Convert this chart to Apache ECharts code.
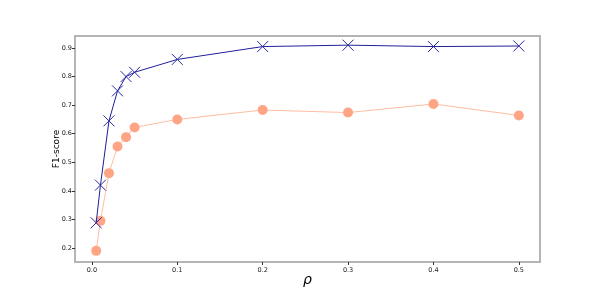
<!DOCTYPE html>
<html><head><meta charset="utf-8">
<script src="https://cdn.jsdelivr.net/npm/echarts@6/dist/echarts.min.js"></script>
<style>html,body{margin:0;padding:0;background:#fff}#c{width:600px;height:300px}</style>
</head><body><div id="c"></div>
<script>
const rho = [0.005, 0.01, 0.02, 0.03, 0.04, 0.05, 0.1, 0.2, 0.3, 0.4, 0.5];
const blueF1 = [0.288, 0.42, 0.645, 0.75, 0.80, 0.815, 0.86, 0.905, 0.91, 0.905, 0.907];
const orangeF1 = [0.19, 0.295, 0.462, 0.555, 0.588, 0.622, 0.65, 0.683, 0.674, 0.704, 0.664];
const xTicks = [0, 0.1, 0.2, 0.3, 0.4, 0.5];
const yTicks = [0.2, 0.3, 0.4, 0.5, 0.6, 0.7, 0.8, 0.9];

const pair = (xs, ys) => xs.map((x, i) => [x, ys[i]]);
const chart = echarts.init(document.getElementById('c'), null, {renderer: 'canvas'});
const axisCommon = {
  axisLine: {show: true, onZero: false, lineStyle: {color: '#b5b5b5', width: 2}},
  splitLine: {show: false},
  nameMoveOverlap: false
};
chart.setOption({
  animation: false,
  grid: {left: 75, right: 60, top: 36, bottom: 38, show: true, borderColor: '#b5b5b5', borderWidth: 2, backgroundColor: 'transparent'},
  xAxis: Object.assign({
    type: 'value', min: -0.0198, max: 0.5248,
    name: 'ρ', nameLocation: 'middle', nameGap: 11,
    nameTextStyle: {fontFamily: 'DejaVu Sans', fontStyle: 'italic', fontSize: 14, color: '#000'},
    axisTick: {show: true, customValues: xTicks, length: 3, lineStyle: {color: '#333'}},
    axisLabel: {customValues: xTicks, formatter: v => v.toFixed(1), fontFamily: 'DejaVu Sans', fontSize: 6.5, color: '#222', margin: 5}
  }, axisCommon),
  yAxis: Object.assign({
    type: 'value', min: 0.151, max: 0.942,
    name: 'F1-score', nameLocation: 'middle', nameGap: 14, nameRotate: 90,
    nameTextStyle: {fontFamily: 'DejaVu Sans', fontSize: 9, color: '#000'},
    axisTick: {show: true, customValues: yTicks, length: 3, lineStyle: {color: '#333'}},
    axisLabel: {customValues: yTicks, formatter: v => v.toFixed(1), fontFamily: 'DejaVu Sans', fontSize: 6.5, color: '#222', margin: 3}
  }, axisCommon),
  series: [
    {
      type: 'line', data: pair(rho, orangeF1),
      lineStyle: {color: '#ffbda3', width: 1},
      symbol: 'circle', symbolSize: 10,
      itemStyle: {color: '#ffa585', opacity: 1},
      z: 2
    },
    {
      type: 'line', data: pair(rho, blueF1),
      lineStyle: {color: '#1f1f9a', width: 1},
      symbol: 'path://M0,0L10,10M10,0L0,10', symbolSize: 11,
      itemStyle: {color: 'rgba(0,0,0,0)', borderColor: '#2828a6', borderWidth: 1},
      z: 3
    }
  ]
});
</script></body></html>
